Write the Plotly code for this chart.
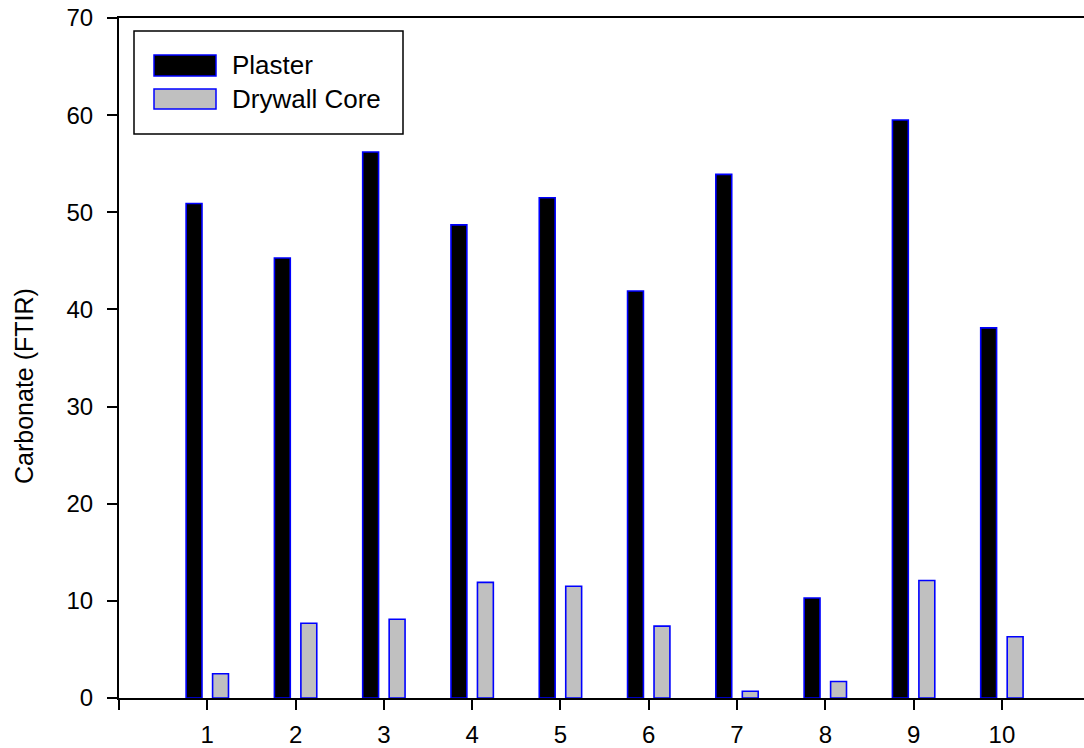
import plotly.graph_objects as go

samples = [1, 2, 3, 4, 5, 6, 7, 8, 9, 10]
plaster = [50.9, 45.3, 56.2, 48.7, 51.5, 41.9, 53.9, 10.3, 59.5, 38.1]
drywall = [2.5, 7.7, 8.1, 11.9, 11.5, 7.4, 0.7, 1.7, 12.1, 6.3]
series_names = ["Plaster", "Drywall Core"]
fill_colors = ["#000000", "#C0C0C0"]
y_ticks = [0, 10, 20, 30, 40, 50, 60, 70]
x_ticks = [0, 1, 2, 3, 4, 5, 6, 7, 8, 9, 10]
x_ticktext = [""] + [str(v) for v in samples]

FONT = "Liberation Sans, Arial, sans-serif"
W, H = 1084, 748
L, R, T, B = 119, 0, 18, 748 - 698

fig = go.Figure()
fig.add_trace(go.Bar(x=samples, y=plaster, name=series_names[0], width=0.18, offset=-0.24,
                     marker=dict(color=fill_colors[0], line=dict(color="#0000FF", width=1.6))))
fig.add_trace(go.Bar(x=samples, y=drywall, name=series_names[1], width=0.18, offset=0.06,
                     marker=dict(color=fill_colors[1], line=dict(color="#0000FF", width=1.6))))

pw, ph = W - L - R, H - T - B
def px(X):
    return (X - L) / pw
def py(Y):
    return (H - B - Y) / ph

shapes = [
    dict(type="rect", xref="paper", yref="paper", x0=px(134), x1=px(403), y0=py(134), y1=py(31),
         line=dict(color="black", width=1.5), fillcolor="white", layer="above"),
    dict(type="rect", xref="paper", yref="paper", x0=px(154), x1=px(216), y0=py(76), y1=py(55),
         line=dict(color="#0000FF", width=1.5), fillcolor=fill_colors[0], layer="above"),
    dict(type="rect", xref="paper", yref="paper", x0=px(154), x1=px(216), y0=py(109), y1=py(89),
         line=dict(color="#0000FF", width=1.5), fillcolor=fill_colors[1], layer="above"),
]
annotations = [
    dict(xref="paper", yref="paper", x=px(230), y=py(65.5), text=series_names[0], showarrow=False,
         xanchor="left", yanchor="middle", font=dict(family=FONT, size=26, color="black")),
    dict(xref="paper", yref="paper", x=px(230), y=py(99), text=series_names[1], showarrow=False,
         xanchor="left", yanchor="middle", font=dict(family=FONT, size=26, color="black")),
    dict(xref="paper", yref="paper", x=px(24), y=py(386), text="Carbonate (FTIR)", showarrow=False,
         textangle=-90, xanchor="center", yanchor="middle",
         font=dict(family=FONT, size=25, color="black")),
]

fig.update_layout(
    width=W, height=H,
    margin=dict(l=L, r=R, t=T, b=B, pad=0, autoexpand=False),
    plot_bgcolor="white", paper_bgcolor="white",
    showlegend=False,
    font=dict(family=FONT, size=24, color="black"),
    shapes=shapes, annotations=annotations,
    xaxis=dict(range=[0, 10.93], tickmode="array", tickvals=x_ticks, ticktext=x_ticktext,
               automargin=False,
               showgrid=False, zeroline=False, showline=True, linecolor="black", linewidth=2,
               mirror=True, ticks="outside", ticklen=10, tickwidth=1.5, tickcolor="black",
               ticklabelstandoff=4, tickfont=dict(family=FONT, size=24)),
    yaxis=dict(range=[0, 70], tickmode="array", tickvals=y_ticks, automargin=False,
               showgrid=False, zeroline=False, showline=True, linecolor="black", linewidth=2,
               ticks="outside", ticklen=10, tickwidth=1.5, tickcolor="black",
               ticklabelstandoff=9, tickfont=dict(family=FONT, size=24)),
)

fig.write_html("out.html", config={"displayModeBar": False},
               post_script="document.body.style.margin='0';document.body.style.overflow='hidden';")
